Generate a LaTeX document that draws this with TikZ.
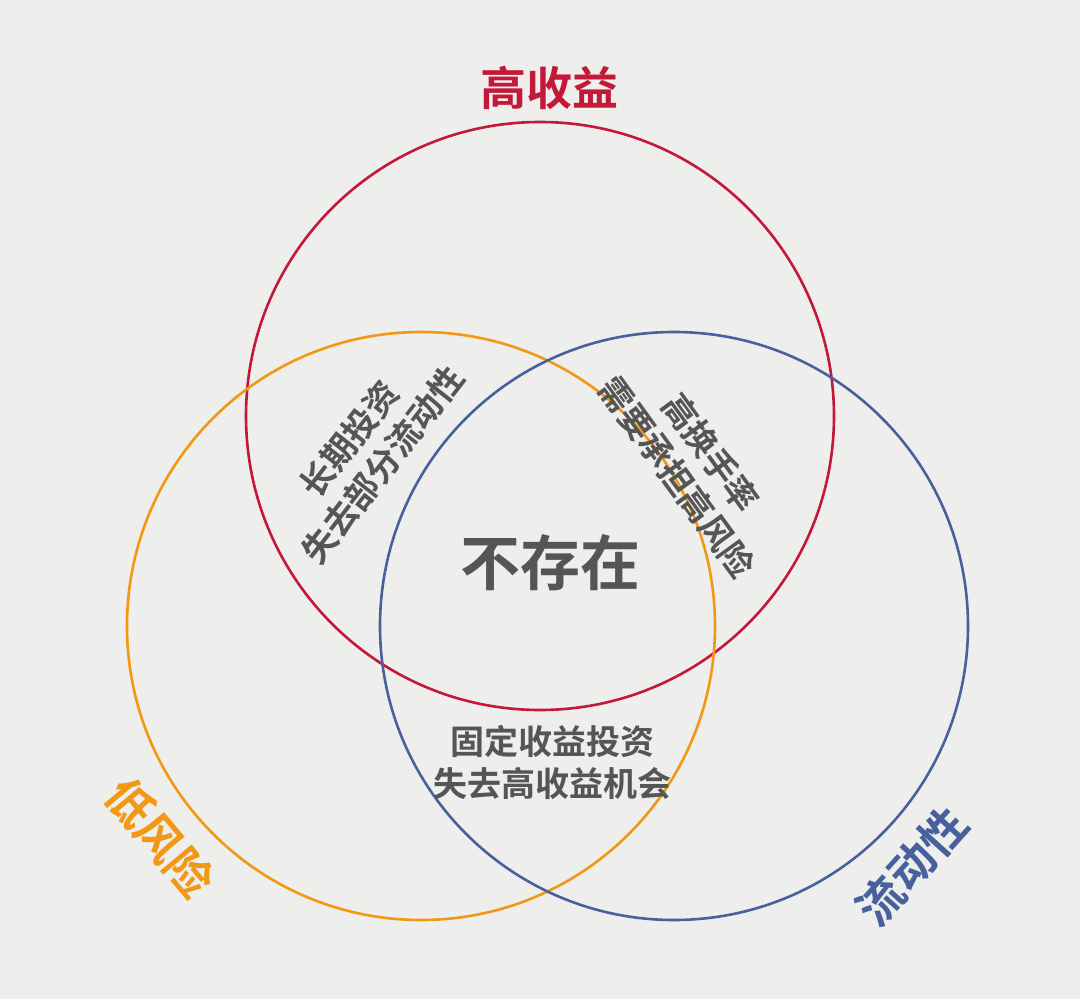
\documentclass[tikz,border=0pt]{standalone}
\usepackage{fontspec}
\newfontfamily\cjk{Noto Sans CJK SC Bold}
\definecolor{bg}{RGB}{238,238,236}
\definecolor{cred}{RGB}{196,24,56}
\definecolor{corange}{RGB}{242,152,20}
\definecolor{cblue}{RGB}{72,96,156}
\definecolor{tgray}{RGB}{85,85,85}
\tikzset{ring/.style={line width=2.6pt},
 lbl/.style={font=\cjk\fontsize{34}{42}\selectfont, text=tgray, align=center, inner sep=0pt},
 title/.style={font=\cjk\fontsize{46}{50}\selectfont, inner sep=0pt}}
\begin{document}
\begin{tikzpicture}[x=1pt,y=-1pt]
\fill[bg] (0,0) rectangle (1080,999);
\useasboundingbox (0,0) rectangle (1080,999);
\draw[ring,cred] (540,416) circle (294);
\draw[ring,corange] (421,626) circle (294);
\draw[ring,cblue] (674,626) circle (294);
\node[title,text=cred] (t1) at (549,88) {高收益};
\node[title,text=corange,rotate=-50] (t2) at (160,838) {低风险};
\node[title,text=cblue,rotate=48] (t3) at (912,866) {流动性};
\node[font=\cjk\fontsize{60}{66}\selectfont,text=tgray,inner sep=0pt] (c) at (550,563) {不存在};
\node[lbl,rotate=52] (l) at (366,452) {长期投资\\失去部分流动性};
\node[lbl,rotate=-54] (r) at (694,465) {高换手率\\需要承担高风险};
\node[lbl] (b) at (552,762) {固定收益投资\\失去高收益机会};
\end{tikzpicture}
\end{document}
